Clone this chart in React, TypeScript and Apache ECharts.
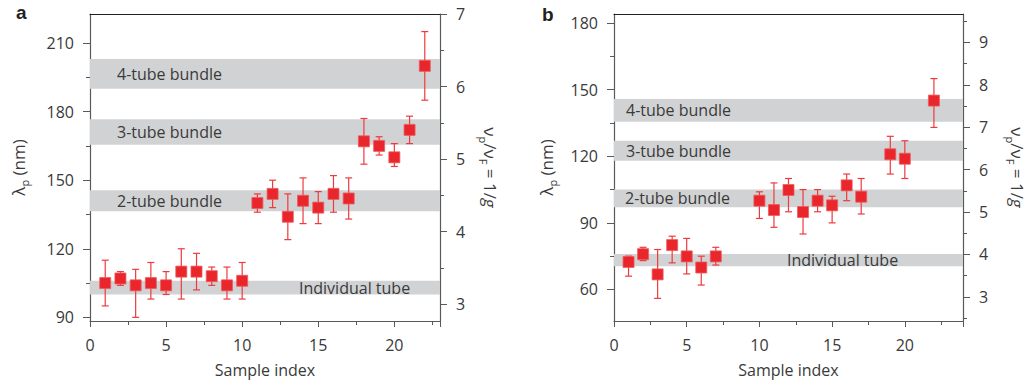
import React, { useEffect, useRef } from "react";
import * as echarts from "echarts";

// Panel a
const sampleA = [1, 2, 3, 4, 5, 6, 7, 8, 9, 10, 11, 12, 13, 14, 15, 16, 17, 18, 19, 20, 21, 22];
const lambdaA = [105, 107, 104, 105, 104, 110, 110, 108, 104, 106, 140, 144, 134, 141, 138, 144, 142, 167, 165, 160, 172, 200];
const lowA = [95, 104, 90, 98, 100, 98, 102, 104, 98, 98, 136, 138, 124, 131, 131, 136, 133, 157, 161, 156, 166, 185];
const highA = [115, 110, 111, 114, 110, 120, 118, 112, 112, 114, 144, 150, 144, 151, 145, 152, 151, 177, 169, 166, 178, 215];

// Panel b
const sampleB = [1, 2, 3, 4, 5, 6, 7, 10, 11, 12, 13, 14, 15, 16, 17, 19, 20, 22];
const lambdaB = [72.4, 75.9, 66.8, 80, 74.9, 69.9, 74.9, 100, 95.8, 104.8, 94.9, 100, 97.9, 106.9, 101.8, 120.9, 118.9, 145.1];
const lowB = [66, 73, 56, 72, 67, 62, 71, 92, 88, 95, 85, 95, 90, 100, 94, 112, 110, 133];
const highB = [75, 79, 78, 84, 83, 75, 79, 104, 108, 110, 105, 105, 102, 112, 110, 129, 127, 155];

// Bands
const bandNames = ["4-tube bundle", "3-tube bundle", "2-tube bundle", "Individual tube"];
const bandLowA = [190, 165.5, 136.4, 100];
const bandHighA = [203, 176.7, 145.6, 106];
const bandLowB = [135.6, 118, 97, 70.5];
const bandHighB = [145.8, 127, 105, 76];

// Ticks
const leftMajorA = [90, 120, 150, 180, 210];
const leftMinorA = [105, 135, 165, 195];
const rightMajorA = [3, 4, 5, 6, 7];
const rightMinorA = [3.5, 4.5, 5.5, 6.5];
const leftMajorB = [60, 90, 120, 150, 180];
const leftMinorB = [75, 105, 135, 165];
const rightMajorB = [3, 4, 5, 6, 7, 8, 9];
const rightMinorB = [2.5, 3.5, 4.5, 5.5, 6.5, 7.5, 8.5, 9.5];

const RED = "#e8262b";
const ERR = "#ee3a3f";
const BAND = "#d1d2d4";
const TXT = "#3a3a3a";
const AX = "#58595b";
const FONT = "Open Sans";

export default function App() {
  const ref = useRef<HTMLDivElement>(null);
  useEffect(() => {
    if (!ref.current) return;
    const chart = echarts.init(ref.current, null, { renderer: "svg" });

    const errSeries = (xs: number[], lo: number[], hi: number[], gi: number, yi: number) => ({
      type: "custom",
      xAxisIndex: gi * 2,
      yAxisIndex: yi,
      z: 2,
      data: xs.map((x, i) => [x, lo[i], hi[i]]),
      encode: { x: 0, y: [1, 2] },
      renderItem: (params: any, api: any) => {
        const x = api.value(0);
        const pLo = api.coord([x, api.value(1)]);
        const pHi = api.coord([x, api.value(2)]);
        const w = 3.5;
        const st = { stroke: ERR, lineWidth: 1.2 };
        return {
          type: "group",
          children: [
            { type: "line", shape: { x1: pLo[0], y1: pLo[1], x2: pHi[0], y2: pHi[1] }, style: st },
            { type: "line", shape: { x1: pLo[0] - w, y1: pLo[1], x2: pLo[0] + w, y2: pLo[1] }, style: st },
            { type: "line", shape: { x1: pHi[0] - w, y1: pHi[1], x2: pHi[0] + w, y2: pHi[1] }, style: st },
          ],
        };
      },
    });

    const scatterSeries = (xs: number[], ys: number[], gi: number, yi: number) => ({
      type: "scatter",
      xAxisIndex: gi * 2,
      yAxisIndex: yi,
      z: 3,
      symbol: "rect",
      symbolSize: 11,
      itemStyle: { color: RED, borderColor: "#f05a5e", borderWidth: 0.8, opacity: 1 },
      data: xs.map((x, i) => [x, ys[i]]),
    });

    const bandSeries = (lo: number[], hi: number[], gi: number, yi: number, dists: number[]) => ({
      type: "line",
      xAxisIndex: gi * 2,
      yAxisIndex: yi,
      z: 1,
      data: [],
      markArea: {
        silent: true,
        itemStyle: { color: BAND, opacity: 1 },
        data: bandNames.map((n, i) => [
          {
            yAxis: lo[i],
            name: n,
            label: {
              show: true,
              position: "insideLeft",
              distance: dists[i],
              color: TXT,
              fontSize: 16,
              fontFamily: FONT,
              formatter: n,
            },
          },
          { yAxis: hi[i] },
        ]),
      },
    });

    const xMain = (gi: number, max: number) => ({
      type: "value",
      gridIndex: gi,
      position: "bottom",
      min: 0,
      max,
      interval: 5,
      axisLine: { show: true, lineStyle: { color: AX, width: 1.2 } },
      axisTick: { show: true, length: 6, lineStyle: { color: AX } },
      minorTick: { show: true, splitNumber: 2, length: 4, lineStyle: { color: AX } },
      axisLabel: { color: TXT, fontSize: 16, fontFamily: FONT, margin: 16, showMaxLabel: false },
      splitLine: { show: false },
      name: "Sample index",
      nameLocation: "middle",
      nameGap: 41,
      nameTextStyle: { color: TXT, fontSize: 16, fontFamily: FONT },
    });
    const xTop = (gi: number, max: number) => ({
      type: "value",
      gridIndex: gi,
      position: "top",
      min: 0,
      max,
      axisLine: { show: true, lineStyle: { color: "#231f20", width: 1.2 } },
      axisTick: { show: false },
      axisLabel: { show: false },
      splitLine: { show: false },
    });

    const yAxisPair = (
      gi: number,
      pos: string,
      min: number,
      max: number,
      major: number[],
      minor: number[],
      name: any
    ) => [
      {
        type: "value",
        gridIndex: gi,
        position: pos,
        min,
        max,
        axisLine: { show: true, lineStyle: { color: AX, width: 1.2 } },
        axisTick: { show: true, length: 7, customValues: major, lineStyle: { color: AX } },
        axisLabel: { color: TXT, fontSize: 16, fontFamily: FONT, margin: 16, customValues: major },
        splitLine: { show: false },
        ...name,
      },
      {
        type: "value",
        gridIndex: gi,
        position: pos,
        min,
        max,
        axisLine: { show: false },
        axisTick: { show: true, length: 4, customValues: minor, lineStyle: { color: AX } },
        axisLabel: { show: false },
        splitLine: { show: false },
      },
    ];

    const lamRich = {
      a: { fontSize: 17, color: TXT, fontFamily: FONT, lineHeight: 24, verticalAlign: "middle" },
      s: { fontSize: 11, color: TXT, fontFamily: FONT, lineHeight: 11, verticalAlign: "bottom" },
      i: { fontSize: 17, color: TXT, fontFamily: FONT, fontStyle: "italic", lineHeight: 24, verticalAlign: "middle" },
    };
    const leftName = (gap: number) => ({
      name: "{a|λ}{s|p}{a| (nm)}",
      nameLocation: "middle",
      nameRotate: 90,
      nameGap: gap,
      nameTextStyle: { rich: lamRich },
    });
    const rightName = (gap: number) => ({
      name: "{a|ν}{s|p}{a|/ν}{s|F}{a| = 1/}{i|g}",
      nameLocation: "middle",
      nameRotate: -90,
      nameGap: gap,
      nameTextStyle: { rich: lamRich },
    });

    const option: any = {
      animation: false,
      textStyle: { fontFamily: FONT },
      grid: [
        { left: 90, top: 14, width: 350, height: 307, containLabel: false },
        { left: 614, top: 14, width: 349, height: 307, containLabel: false },
      ],
      xAxis: [xMain(0, 23), xTop(0, 23), xMain(1, 24), xTop(1, 24)],
      yAxis: [
        ...yAxisPair(0, "left", 88.4, 222.7, leftMajorA, leftMinorA, leftName(60)),
        ...yAxisPair(0, "right", 2.77, 7, rightMajorA, rightMinorA, rightName(38)),
        ...yAxisPair(1, "left", 45.8, 184.1, leftMajorB, leftMinorB, leftName(56)),
        ...yAxisPair(1, "right", 2.43, 9.67, rightMajorB, rightMinorB, rightName(42)),
      ],
      graphic: [
        { type: "text", left: 16, top: 3, style: { text: "a", fontSize: 19, fontWeight: "bold", fontFamily: "Liberation Sans", fill: "#231f20" } },
        { type: "text", left: 542, top: 5, style: { text: "b", fontSize: 19, fontWeight: "bold", fontFamily: "Liberation Sans", fill: "#231f20" } },
      ],
      series: [
        bandSeries(bandLowA, bandHighA, 0, 0, [27, 27, 27, 209]),
        errSeries(sampleA, lowA, highA, 0, 0),
        scatterSeries(sampleA, lambdaA, 0, 0),
        bandSeries(bandLowB, bandHighB, 1, 4, [12, 12, 11, 173]),
        errSeries(sampleB, lowB, highB, 1, 4),
        scatterSeries(sampleB, lambdaB, 1, 4),
      ],
    };
    chart.setOption(option);
    return () => chart.dispose();
  }, []);
  return (
    <div
      ref={ref}
      style={{ position: "absolute", left: 0, top: 0, width: 1027, height: 388, background: "#fff" }}
    />
  );
}
